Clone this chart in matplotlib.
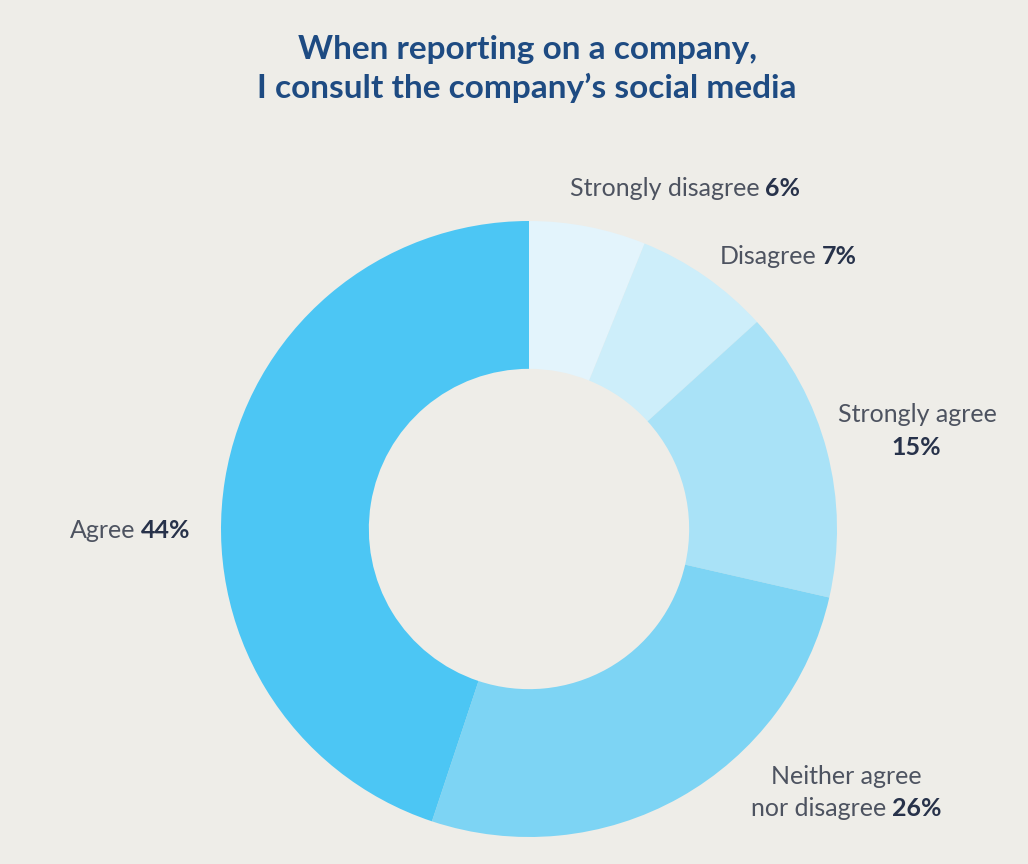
import matplotlib
matplotlib.use("Agg")
import matplotlib.pyplot as plt

# survey answers, clockwise from the top
labels = ["Strongly disagree", "Disagree", "Strongly agree",
          "Neither agree\nnor disagree", "Agree"]
shares = [6, 7, 15, 26, 44]
colors = ["#E3F4FC", "#CDEEFA", "#A9E2F7", "#7DD4F4", "#4CC6F4"]

title = "When reporting on a company,\nI consult the company\u2019s social media"

BG = "#EEEDE8"
TITLE_COLOR = "#1E4B82"
LABEL_COLOR = "#4D5360"
VALUE_COLOR = "#27324A"

W, H = 1028, 864
FONT = "Lato"
SIZE = 18

fig = plt.figure(figsize=(W / 100, H / 100), dpi=100, facecolor=BG)
renderer = fig.canvas.get_renderer()


def px(x, y):
    return x / W, 1 - y / H


def width_of(t):
    return t.get_window_extent(renderer).width


def two_part(x, y, plain, bold, ha="left"):
    """Regular text followed by a bold value on one baseline."""
    t1 = fig.text(0, 0, plain, fontsize=SIZE, family=FONT, weight="normal",
                  color=LABEL_COLOR, va="center")
    t2 = fig.text(0, 0, bold, fontsize=SIZE, family=FONT, weight="bold",
                  color=VALUE_COLOR, va="center")
    gap = SIZE * 0.3 if plain else 0
    w1, w2 = width_of(t1), width_of(t2)
    total = w1 + gap + w2
    x0 = x if ha == "left" else x - total / 2
    t1.set_position(px(x0, y))
    t2.set_position(px(x0 + w1 + gap, y))


fig.text(*px(527, 69), title, ha="center", va="center", fontsize=24,
         family=FONT, weight="bold", color=TITLE_COLOR, linespacing=1.38)

# donut
R = 308
cx, cy = 529, 529
ax = fig.add_axes([(cx - R) / W, (H - cy - R) / H, 2 * R / W, 2 * R / H])
ax.pie(shares, colors=colors, startangle=90, counterclock=False, radius=1,
       wedgeprops=dict(width=0.48, linewidth=0))
ax.set_xlim(-1, 1)
ax.set_ylim(-1, 1)
ax.set_axis_off()

two_part(570, 189, labels[0], f"{shares[0]}%")
two_part(720, 256, labels[1], f"{shares[1]}%")
fig.text(*px(838, 415), labels[2], fontsize=SIZE, family=FONT, weight="normal",
         color=LABEL_COLOR, va="center")
two_part(916, 447, "", f"{shares[2]}%", ha="center")
line1, line2 = labels[3].split("\n")
fig.text(*px(846, 777), line1, fontsize=SIZE, family=FONT, weight="normal",
         color=LABEL_COLOR, va="center", ha="center")
two_part(846, 808, line2, f"{shares[3]}%", ha="center")
two_part(70, 530, labels[4], f"{shares[4]}%")

fig.savefig("out.png", dpi=100, facecolor=BG)
